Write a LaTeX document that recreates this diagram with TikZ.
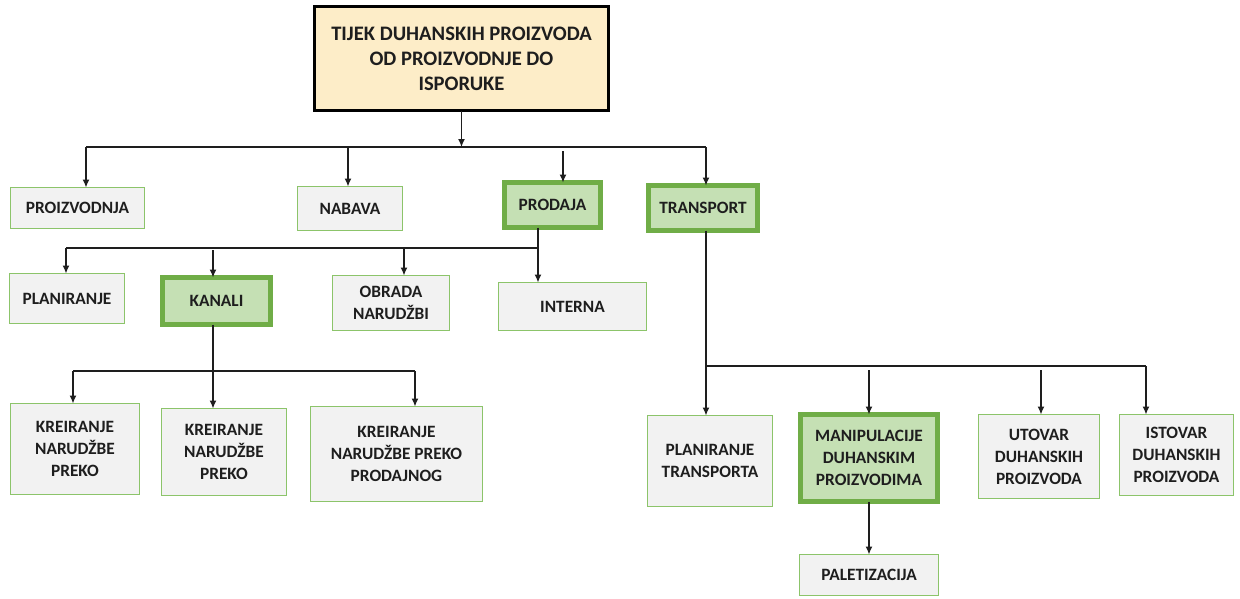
\documentclass[tikz,border=0pt]{standalone}
\usepackage{fontspec}
\setmainfont{Carlito}
\usetikzlibrary{arrows.meta}
\definecolor{gfill}{HTML}{F2F2F2}
\definecolor{gline}{HTML}{8CC46A}
\definecolor{hfill}{HTML}{C5E0B4}
\definecolor{hline}{HTML}{70AD47}
\definecolor{tfill}{HTML}{FDEDC8}
\definecolor{ink}{HTML}{1E1E1E}
\begin{document}
\begin{tikzpicture}[x=1pt,y=-1pt,
  every node/.style={align=center,inner sep=2pt,outer sep=0pt,text=ink,font=\bfseries\fontsize{17.3}{22}\selectfont},
  plainbox/.style={draw=gline,fill=gfill,line width=1.6pt},
  hibox/.style={draw=hline,fill=hfill,line width=4.5pt},
  titlebox/.style={draw=black,fill=tfill,line width=3pt,font=\bfseries\fontsize{20.6}{25}\selectfont},
  conn/.style={draw=ink,line width=1.3pt},
  arr/.style={conn,-{Latex[length=8pt,width=7pt]}}]
\useasboundingbox (0,0) rectangle (1240,598);

% nodes
\node[titlebox,minimum width=294pt,minimum height=104pt] (title) at (461.5,58.5) {TIJEK DUHANSKIH PROIZVODA\\OD PROIZVODNJE DO\\ISPORUKE};
\node[plainbox,minimum width=134pt,minimum height=41pt] (proiz) at (77.5,208) {PROIZVODNJA};
\node[plainbox,minimum width=105pt,minimum height=44pt] (nabava) at (350,208.5) {NABAVA};
\node[hibox,minimum width=96pt,minimum height=45pt] (prodaja) at (552.5,205) {PRODAJA};
\node[hibox,minimum width=109pt,minimum height=45pt] (transport) at (703,208) {TRANSPORT};
\node[plainbox,minimum width=115pt,minimum height=50pt] (planir) at (67,298.5) {PLANIRANJE};
\node[hibox,minimum width=108pt,minimum height=47pt] (kanali) at (216.5,301) {KANALI};
\node[plainbox,minimum width=117pt,minimum height=55pt] (obrada) at (391,303) {OBRADA\\NARUDŽBI};
\node[plainbox,minimum width=148pt,minimum height=48pt] (interna) at (572.5,306.5) {INTERNA};
\node[plainbox,minimum width=129pt,minimum height=91pt] (kre1) at (75,449) {KREIRANJE\\NARUDŽBE\\PREKO};
\node[plainbox,minimum width=125pt,minimum height=87pt] (kre2) at (224,452) {KREIRANJE\\NARUDŽBE\\PREKO};
\node[plainbox,minimum width=172pt,minimum height=95pt] (kre3) at (396.5,454) {KREIRANJE\\NARUDŽBE PREKO\\PRODAJNOG};
\node[plainbox,minimum width=125pt,minimum height=91pt] (plantr) at (710,461) {PLANIRANJE\\TRANSPORTA};
\node[hibox,minimum width=137pt,minimum height=87pt] (manip) at (869,458) {MANIPULACIJE\\DUHANSKIM\\PROIZVODIMA};
\node[plainbox,minimum width=121pt,minimum height=84pt] (utovar) at (1039,456.5) {UTOVAR\\DUHANSKIH\\PROIZVODA};
\node[plainbox,minimum width=114pt,minimum height=81pt] (istovar) at (1176.5,455) {ISTOVAR\\DUHANSKIH\\PROIZVODA};
\node[plainbox,minimum width=139pt,minimum height=41pt] (palet) at (869,575) {PALETIZACIJA};

% bus coordinates
\coordinate (b1L) at (86,147);
\coordinate (b1R) at (706,147);
\coordinate (b1n) at (348,147);
\coordinate (b1p) at (563,151);
\coordinate (b1t) at (706,147);
\coordinate (b2L) at (66,248);
\coordinate (b2R) at (538,248);
\coordinate (b2k) at (213,250);
\coordinate (b2o) at (404,248);
\coordinate (b3L) at (73,371);
\coordinate (b3R) at (415,371);
\coordinate (b4L) at (706,366);
\coordinate (b4R) at (1146,366);
\coordinate (b4m) at (869,370);
\coordinate (b4u) at (1041,370);

% top level
\draw[arr] (title.south) -- (title.south |- b1L);
\draw[conn] (b1L) -- (b1R);
\draw[arr] (b1L) -- (b1L |- proiz.north);
\draw[arr] (b1n) -- (b1n |- nabava.north);
\draw[arr] (b1p) -- (b1p |- prodaja.north);
\draw[arr] (b1t) -- (b1t |- transport.north);

% prodaja
\draw[conn] (b2R |- prodaja.south) -- (b2R);
\draw[conn] (b2L) -- (b2R);
\draw[arr] (b2R) -- (b2R |- interna.north);
\draw[arr] (b2L) -- (b2L |- planir.north);
\draw[arr] (b2k) -- (b2k |- kanali.north);
\draw[arr] (b2o) -- (b2o |- obrada.north);

% kanali
\draw[arr] (b2k |- kanali.south) -- (b2k |- kre2.north);
\draw[conn] (b3L) -- (b3R);
\draw[arr] (b3L) -- (b3L |- kre1.north);
\draw[arr] (b3R) -- (b3R |- kre3.north);

% transport
\draw[arr] (b4L |- transport.south) -- (b4L |- plantr.north);
\draw[conn] (b4L) -- (b4R);
\draw[arr] (b4m) -- (b4m |- manip.north);
\draw[arr] (b4u) -- (b4u |- utovar.north);
\draw[arr] (b4R) -- (b4R |- istovar.north);

% manipulacije
\draw[arr] (manip.south) -- (palet.north);
\end{tikzpicture}
\end{document}
